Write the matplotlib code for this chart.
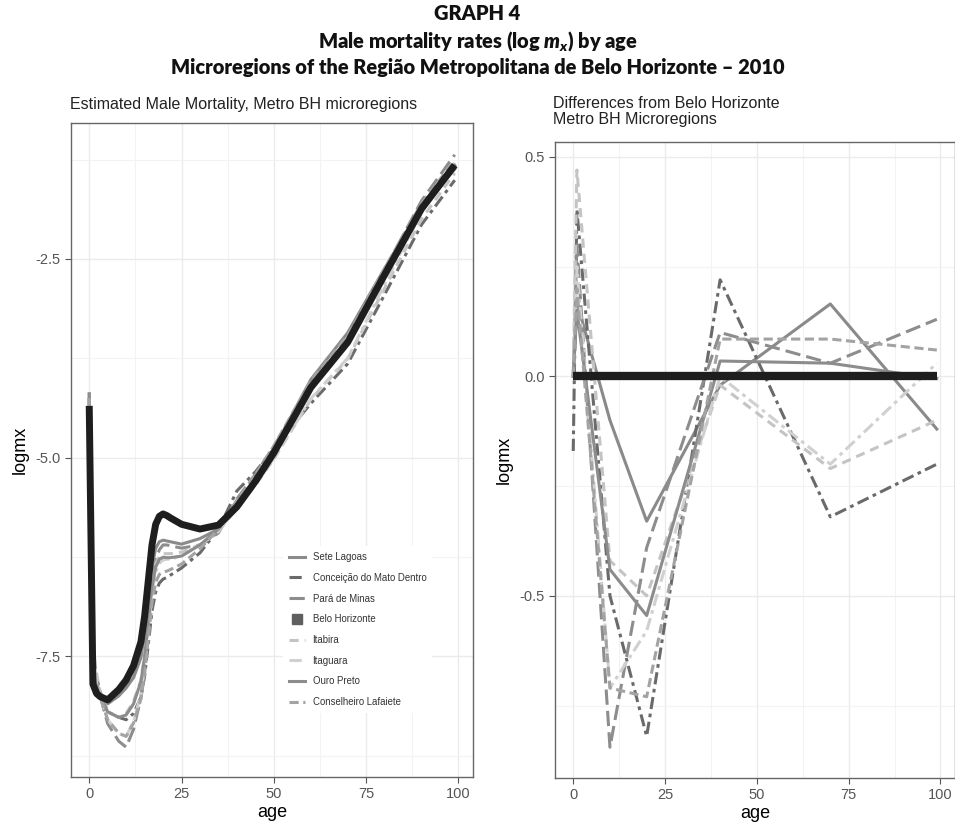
import matplotlib
matplotlib.use("Agg")
import matplotlib.pyplot as plt
import numpy as np
from matplotlib.lines import Line2D

plt.rcParams['font.family'] = ['Liberation Sans', 'DejaVu Sans']

# ages used for the smoothed curves (left panel)
ages = [0, 1, 2, 3, 5, 8, 10, 12, 14, 15, 16, 17, 18, 19, 20, 21, 22, 25, 30, 35,
        40, 45, 50, 60, 70, 80, 90, 99]
# Belo Horizonte log mx
bh_logmx = [-4.35, -7.85, -7.97, -8.01, -8.05, -7.92, -7.8, -7.62, -7.32, -7.0, -6.55,
            -6.1, -5.84, -5.74, -5.71, -5.73, -5.76, -5.84, -5.9, -5.85, -5.62, -5.3,
            -4.94, -4.12, -3.55, -2.7, -1.87, -1.32]
# other microregions, read as gap to Belo Horizonte on the left curves
sete_lagoas_gap = [0.15, 0.17, 0.1, 0.05, -0.05, -0.08, -0.1, -0.15, -0.2, -0.22, -0.25,
                   -0.28, -0.3, -0.32, -0.33, -0.32, -0.3, -0.25, -0.12, -0.05, -0.02,
                   0.02, 0.05, 0.1, 0.12, 0.08, 0.0, -0.05]
conceicao_gap = [0.1, 0.38, 0.2, 0.05, -0.15, -0.35, -0.5, -0.6, -0.7, -0.75, -0.8,
                 -0.83, -0.85, -0.84, -0.82, -0.78, -0.72, -0.55, -0.3, -0.05, 0.2,
                 0.12, 0.05, -0.2, -0.27, -0.25, -0.2, -0.19]
para_gap = [0.1, 0.3, 0.15, 0.0, -0.3, -0.65, -0.845, -0.8, -0.7, -0.62, -0.55,
            -0.5, -0.45, -0.42, -0.39, -0.37, -0.35, -0.3, -0.2, -0.1, 0.1,
            0.09, 0.08, 0.05, 0.03, 0.06, 0.1, 0.13]
itabira_gap = [0.1, 0.47, 0.25, 0.05, -0.15, -0.35, -0.42, -0.45, -0.48, -0.49, -0.5,
               -0.5, -0.5, -0.5, -0.5, -0.48, -0.45, -0.35, -0.2, -0.08, -0.02,
               -0.05, -0.08, -0.15, -0.21, -0.17, -0.13, -0.1]
itaguara_gap = [0.1, 0.25, 0.12, 0.0, -0.25, -0.55, -0.71, -0.7, -0.66, -0.64, -0.62,
                -0.61, -0.6, -0.59, -0.58, -0.55, -0.52, -0.4, -0.2, -0.08, 0.0,
                -0.03, -0.07, -0.14, -0.2, -0.12, -0.04, 0.03]
ouro_preto_gap = [0.15, 0.15, 0.08, 0.0, -0.15, -0.35, -0.44, -0.48, -0.5, -0.51, -0.52,
                  -0.53, -0.54, -0.54, -0.545, -0.53, -0.5, -0.4, -0.2, -0.05, 0.035,
                  0.034, 0.033, 0.03, 0.03, 0.02, 0.01, -0.005]
conselheiro_gap = [0.1, 0.2, 0.1, 0.0, -0.25, -0.55, -0.71, -0.72, -0.72, -0.72, -0.73,
                   -0.73, -0.73, -0.73, -0.73, -0.7, -0.65, -0.5, -0.25, -0.05, 0.085,
                   0.085, 0.085, 0.085, 0.085, 0.08, 0.07, 0.06]

# right panel: differences from Belo Horizonte at selected ages
diff_ages = [0, 1, 10, 20, 40, 70, 99]
sete_lagoas_diff = [0.0, 0.17, -0.1, -0.33, -0.02, 0.165, -0.12]
conceicao_diff = [-0.17, 0.38, -0.5, -0.82, 0.22, -0.32, -0.2]
para_diff = [0.0, 0.3, -0.845, -0.39, 0.1, 0.03, 0.13]
bh_diff = [0, 0, 0, 0, 0, 0, 0]
itabira_diff = [0.0, 0.47, -0.42, -0.5, -0.02, -0.21, -0.1]
itaguara_diff = [0.0, 0.25, -0.71, -0.58, 0.0, -0.2, 0.03]
ouro_preto_diff = [0.0, 0.15, -0.44, -0.545, 0.035, 0.03, -0.005]
conselheiro_diff = [0.0, 0.2, -0.71, -0.73, 0.085, 0.085, 0.06]

regions = ['Sete Lagoas', 'Conceição do Mato Dentro', 'Pará de Minas', 'Belo Horizonte',
           'Itabira', 'Itaguara', 'Ouro Preto', 'Conselheiro Lafaiete']
gaps = [sete_lagoas_gap, conceicao_gap, para_gap, None, itabira_gap, itaguara_gap,
        ouro_preto_gap, conselheiro_gap]
diffs = [sete_lagoas_diff, conceicao_diff, para_diff, bh_diff, itabira_diff,
         itaguara_diff, ouro_preto_diff, conselheiro_diff]
colors = ['#8a8a8a', '#6a6a6a', '#8d8d8d', '#1e1e1e', '#c4c4c4', '#d0d0d0',
          '#8c8c8c', '#a3a3a3']
styles = ['-', (0, (4, 1.5, 1.2, 1.5)), (0, (5, 2)), '-', (0, (3, 2)),
          (0, (4, 1.5, 1.2, 1.5)), '-', (0, (3, 1.5))]

fig = plt.figure(figsize=(9.55, 8.27), dpi=100)
ax1 = fig.add_axes([0.0743, 0.0605, 0.421, 0.7908])
ax2 = fig.add_axes([0.5812, 0.0593, 0.4188, 0.769])

bh = np.array(bh_logmx)
for name, gap, c, ls in zip(regions, gaps, colors, styles):
    if gap is None:
        continue
    ax1.plot(ages, bh + np.array(gap), color=c, ls=ls, lw=2.2)
ax1.plot(ages, bh, color='#1e1e1e', lw=5, solid_capstyle='butt',
         solid_joinstyle='round', zorder=5)

for name, d, c, ls in zip(regions, diffs, colors, styles):
    if name == 'Belo Horizonte':
        continue
    ax2.plot(diff_ages, d, color=c, ls=ls, lw=2.2)
ax2.plot(diff_ages, bh_diff, color='#1e1e1e', lw=6, solid_capstyle='butt', zorder=5)

for ax in (ax1, ax2):
    ax.set_xlim(-4.95, 103.95)
    ax.set_xticks([0, 25, 50, 75, 100])
    ax.set_xticks([12.5, 37.5, 62.5, 87.5], minor=True)
    ax.grid(which='major', color='#ebebeb', lw=1.0)
    ax.grid(which='minor', color='#f3f3f3', lw=0.8)
    ax.set_axisbelow(True)
    ax.tick_params(which='minor', length=0)
    ax.tick_params(which='major', length=4, color='#555555', labelsize=10.5,
                   labelcolor='#555555', width=0.8)
    for s in ax.spines.values():
        s.set_color('#666666')
        s.set_linewidth(1.0)
    ax.set_xlabel('age', fontsize=13, labelpad=2)
    ax.set_ylabel('logmx', fontsize=13, labelpad=5)

ax1.set_ylim(-9.02, -0.79)
ax1.set_yticks([-2.5, -5.0, -7.5])
ax1.set_yticklabels(['-2.5', '-5.0', '-7.5'])
ax1.set_yticks([-1.25, -3.75, -6.25, -8.75], minor=True)

ax2.set_ylim(-0.915, 0.534)
ax2.set_yticks([0.5, 0.0, -0.5])
ax2.set_yticklabels(['0.5', '0.0', '-0.5'])
ax2.set_yticks([0.25, -0.25, -0.75], minor=True)

ax1.set_title('Estimated Male Mortality, Metro BH microregions', loc='left',
              fontsize=11.5, color='#222222', pad=10, x=-0.003)
ax2.set_title('Differences from Belo Horizonte\nMetro BH Microregions', loc='left',
              fontsize=11.5, color='#222222', pad=13, x=-0.005, linespacing=1.1)

handles = []
for name, c, ls in zip(regions, colors, styles):
    if name == 'Belo Horizonte':
        handles.append(Line2D([], [], color='#5f5f5f', marker='s', ls='none', ms=7))
    else:
        handles.append(Line2D([], [], color=c, ls=ls, lw=2.2))
leg = ax1.legend(handles, regions, loc='upper left', bbox_to_anchor=(0.515, 0.36),
                 frameon=True, fontsize=6.9, handlelength=1.7, handletextpad=0.8,
                 labelspacing=1.12, borderpad=0.6)
leg.get_frame().set_edgecolor('none')
leg.get_frame().set_facecolor('white')
leg.get_frame().set_alpha(1)
for t in leg.get_texts():
    t.set_color('#333333')

plt.rcParams['mathtext.fontset'] = 'custom'
plt.rcParams['mathtext.it'] = 'Lato:italic:heavy'
plt.rcParams['mathtext.rm'] = 'Lato:heavy'
title_kw = dict(ha='center', va='center', fontsize=14.4, fontweight='heavy',
                family='Lato', color='#111111')
fig.text(0.5, 0.984, 'GRAPH 4', **title_kw)
fig.text(0.5, 0.951, r'Male mortality rates (log $m_x$) by age', **title_kw)
fig.text(0.5, 0.918, 'Microregions of the Região Metropolitana de Belo Horizonte – 2010',
         **title_kw)

fig.savefig('out.png', dpi=100)
